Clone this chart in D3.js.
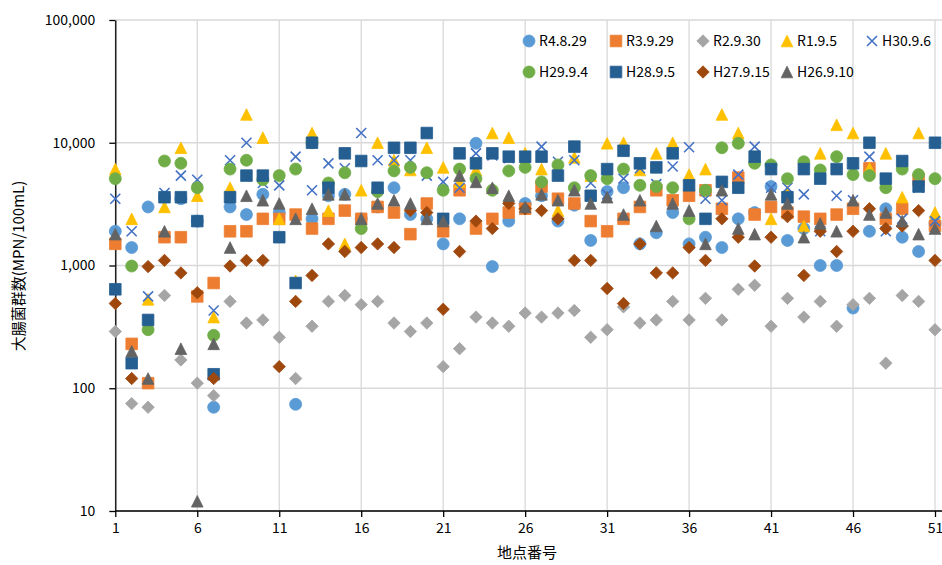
<!DOCTYPE html>
<html>
<head>
<meta charset="utf-8">
<script src="https://cdn.jsdelivr.net/npm/d3@7"></script>
<style>
  body { margin: 0; background: #fff; }
  text { font-family: "Noto Sans CJK JP", "Noto Sans", sans-serif; }
</style>
</head>
<body>
<svg id="chart" width="942" height="565"></svg>
<script>
// Survey site numbers and axis ticks
const sites = d3.range(1, 52);
const xTicks = [1, 6, 11, 16, 21, 26, 31, 36, 41, 46, 51];
const yTicks = [10, 100, 1000, 10000, 100000];

// Coliform counts (MPN/100mL) per survey date, site 1..51
const r4_8_29 = [1900,1400,3000,3600,3500,2300,70,3000,2600,3800,
  2700,74,2400,3700,3800,2400,3000,4300,2600,2400,
  1500,2400,9900,980,2300,3200,3700,2300,3100,1600,
  4000,4300,1500,1850,2700,1500,1700,1400,2400,2700,
  4400,1600,2000,1000,1000,450,1900,2900,1700,1300,2200];
const r3_9_29 = [1500,230,110,1700,1700,560,720,1900,1900,2400,
  2400,2600,2000,2400,2800,2400,3000,2700,1800,3200,
  1900,4100,2000,2400,2700,2900,4400,3500,3200,2300,
  1900,2400,3000,4100,3400,3700,4100,2900,5200,2600,
  3000,2700,2500,2400,2600,2900,6200,2400,2900,5000,2100];
const r2_9_30 = [290,75,70,570,170,110,87,510,340,360,
  260,120,320,510,570,480,510,340,290,340,
  150,210,380,340,320,410,380,410,430,260,
  300,460,340,360,510,360,540,360,640,690,
  320,540,380,510,320,480,540,160,570,510,300];
const r1_9_5 = [6100,2400,530,3000,9100,3700,380,4300,17000,11000,
  2400,750,12000,2800,1500,4100,10000,7200,6000,9100,
  6300,4800,6000,12000,11000,8200,6100,2800,7600,5400,
  9900,10000,6000,8200,10000,5500,6100,17000,12000,7700,
  2400,4000,2100,8200,14000,12000,6200,8200,3600,12000,2700];
const h30_9_6 = [3500,1900,560,3900,5400,5000,430,7200,10000,4700,
  4500,7700,4100,6800,6200,12000,7200,7200,7200,5400,
  4800,4300,8200,7900,7500,7500,9300,7000,7200,4700,
  3800,5100,6200,4600,6400,9200,3500,3400,5500,9300,
  4300,4300,3800,1900,3700,3400,7700,1900,2400,4300,2300];
const h29_9_4 = [5100,990,300,7100,6800,4300,270,6100,7200,5000,
  5400,6100,10000,4700,5700,2000,4000,5900,6300,5700,
  4100,6100,5100,4100,5900,6300,4800,6600,4300,5400,
  5100,6100,4500,4400,4300,2400,4100,9100,9900,6800,
  6600,5100,7000,6000,7700,5500,5400,4300,6100,5500,5100];
const h28_9_5 = [640,160,360,3600,3600,2300,130,3600,5400,5400,
  1700,720,10000,4300,8200,7100,4300,9100,9100,12000,
  2400,8200,6800,8200,7700,7700,7700,5400,9300,3700,
  6100,8600,6800,6300,8200,4500,2400,4800,4300,7700,
  6100,3600,6100,5100,6100,6800,10000,5100,7100,4400,10000];
const h27_9_15 = [490,120,980,1100,870,600,120,990,1100,1100,
  150,510,830,1500,1300,1400,1500,1400,2800,2700,
  440,1300,2300,2000,3200,2900,2800,2400,1100,1100,
  650,490,1500,870,870,1400,1100,2400,1700,990,
  1700,2500,830,1900,1300,1900,2900,2000,2100,2800,1100];
const h26_9_10 = [1800,200,120,1900,210,12,230,1400,3700,3400,
  3200,2400,2900,3800,3800,2400,3200,3400,3200,2400,
  2300,5400,4800,4300,3700,3000,3800,3400,4100,3200,
  3600,2600,3400,2100,3200,2800,1500,4100,2000,1800,
  3800,3200,1700,2200,1900,3400,2600,2700,2300,1800,2000];

const seriesNames = ["R4.8.29","R3.9.29","R2.9.30","R1.9.5","H30.9.6",
                     "H29.9.4","H28.9.5","H27.9.15","H26.9.10"];
const seriesValues = [r4_8_29, r3_9_29, r2_9_30, r1_9_5, h30_9_6,
                      h29_9_4, h28_9_5, h27_9_15, h26_9_10];
const seriesColors = ["#5B9BD5","#ED7D31","#A5A5A5","#FFC000","#4472C4",
                      "#70AD47","#255E91","#9E480E","#636363"];
const seriesShapes = ["circle","square","diamond","triangle","cross",
                      "circle","square","diamond","triangle"];

// Marker outlines, centred on the point
const shapePath = {
  circle: r => `M${r},0A${r},${r} 0 1,1 ${-r},0A${r},${r} 0 1,1 ${r},0Z`,
  square: r => `M${-r},${-r}H${r}V${r}H${-r}Z`,
  diamond: r => `M0,${-r}L${r},0L0,${r}L${-r},0Z`,
  triangle: r => `M0,${-r}L${r},${r}L${-r},${r}Z`,
  cross: r => `M${-r},${-r}L${r},${r}M${r},${-r}L${-r},${r}`
};
const shapeSize = { circle: 6, square: 5.8, diamond: 6.2, triangle: 5.8, cross: 5 };

const svg = d3.select("#chart");
svg.append("rect").attr("width", 942).attr("height", 565).attr("fill", "#fff");

const plotLeft = 115.3, plotRight = 935, plotEdge = 942, plotTop = 20, plotBottom = 511;
const x = d3.scaleLinear().domain([1, 51]).range([plotLeft, plotRight]);
const y = d3.scaleLog().domain([10, 100000]).range([plotBottom, plotTop]);

// Gridlines
const grid = svg.append("g").attr("stroke", "#d9d9d9").attr("stroke-width", 1.3);
grid.selectAll(".hg").data(yTicks).join("line")
  .attr("x1", plotLeft).attr("x2", plotEdge)
  .attr("y1", d => y(d)).attr("y2", d => y(d));
grid.selectAll(".vg").data(xTicks).join("line")
  .attr("x1", d => x(d)).attr("x2", d => x(d))
  .attr("y1", plotTop).attr("y2", plotBottom);

// Axes
const yAxis = svg.append("g").attr("transform", `translate(${plotLeft},0)`)
  .call(d3.axisLeft(y).tickValues(yTicks).tickFormat(d3.format(",")).tickSize(6).tickSizeOuter(0).tickPadding(14));
const xAxis = svg.append("g").attr("transform", `translate(0,${plotBottom})`)
  .call(d3.axisBottom(x).tickValues(xTicks).tickSize(6).tickSizeOuter(0).tickPadding(6));
xAxis.select(".domain").remove();
svg.append("line").attr("x1", plotLeft).attr("x2", plotEdge)
  .attr("y1", plotBottom).attr("y2", plotBottom).attr("stroke", "#000").attr("stroke-width", 1.3);
[yAxis, xAxis].forEach(g => {
  g.selectAll(".tick line").attr("stroke", "#000").attr("stroke-width", 1.3);
  g.selectAll(".domain").attr("stroke", "#000").attr("stroke-width", 1.3);
  g.selectAll("text").attr("font-size", 14).attr("fill", "#000")
    .attr("font-family", "\"Noto Sans CJK JP\", sans-serif");
});

// Axis titles
svg.append("text").attr("x", 527).attr("y", 558).attr("text-anchor", "middle")
  .attr("font-size", 15).attr("fill", "#000").text("地点番号");
svg.append("text").attr("transform", "translate(24,266) rotate(-90)")
  .attr("text-anchor", "middle").attr("font-size", 15).attr("fill", "#000")
  .text("大腸菌群数(MPN/100mL)");

// Data markers, one layer per survey date
function drawMarker(sel, shape, color) {
  const r = shapeSize[shape];
  if (shape === "cross") {
    sel.attr("d", shapePath.cross(r)).attr("fill", "none")
      .attr("stroke", color).attr("stroke-width", 1.6);
  } else {
    sel.attr("d", shapePath[shape](r)).attr("fill", color)
      .attr("stroke", color).attr("stroke-width", 0.8);
  }
}

seriesValues.forEach((vals, i) => {
  const g = svg.append("g").attr("class", "series");
  g.selectAll("path").data(sites.map((s, j) => ({ site: s, v: vals[j] })))
    .join("path")
    .attr("transform", d => `translate(${x(d.site)},${y(d.v)})`)
    .call(drawMarker, seriesShapes[i], seriesColors[i]);
});

// Legend
const legendPos = [[529,41],[616,41],[703,41],[787,41],[872,41],
                   [529,72],[616,72],[703,72],[787,72]];
const legend = svg.append("g");
seriesNames.forEach((name, i) => {
  const [lx, ly] = legendPos[i];
  legend.append("path").attr("transform", `translate(${lx},${ly})`)
    .call(drawMarker, seriesShapes[i], seriesColors[i]);
  legend.append("text").attr("x", lx + 10).attr("y", ly + 5)
    .attr("font-size", 14).attr("fill", "#000").text(name);
});
</script>
</body>
</html>
